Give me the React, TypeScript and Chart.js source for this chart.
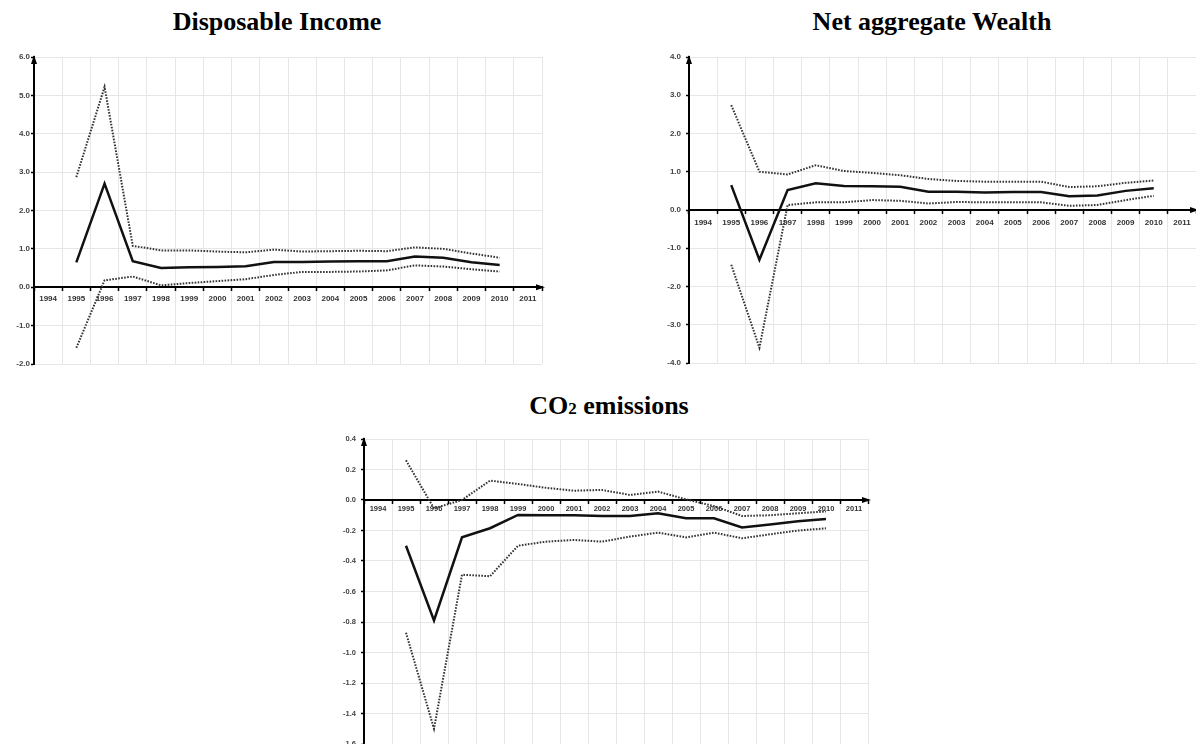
import React, { useEffect, useRef } from "react";
import { Chart, registerables } from "chart.js";

Chart.register(...registerables);

const years = ["1994", "1995", "1996", "1997", "1998", "1999", "2000", "2001", "2002", "2003", "2004", "2005", "2006", "2007", "2008", "2009", "2010", "2011"];

const incomeMid = [null, 0.65, 2.70, 0.68, 0.50, 0.52, 0.53, 0.55, 0.66, 0.66, 0.67, 0.68, 0.68, 0.80, 0.77, 0.65, 0.58, null];
const incomeUpper = [null, 2.87, 5.22, 1.08, 0.96, 0.96, 0.93, 0.91, 0.98, 0.93, 0.94, 0.95, 0.94, 1.04, 1.00, 0.88, 0.77, null];
const incomeLower = [null, -1.58, 0.18, 0.28, 0.05, 0.11, 0.16, 0.21, 0.32, 0.40, 0.40, 0.41, 0.44, 0.57, 0.54, 0.47, 0.41, null];

const wealthMid = [null, 0.65, -1.30, 0.52, 0.70, 0.63, 0.62, 0.61, 0.48, 0.48, 0.46, 0.47, 0.47, 0.36, 0.38, 0.50, 0.57, null];
const wealthUpper = [null, 2.74, 1.00, 0.93, 1.17, 1.02, 0.97, 0.91, 0.81, 0.76, 0.74, 0.74, 0.74, 0.60, 0.62, 0.71, 0.77, null];
const wealthLower = [null, -1.43, -3.60, 0.13, 0.20, 0.20, 0.26, 0.24, 0.17, 0.21, 0.20, 0.20, 0.20, 0.11, 0.13, 0.26, 0.37, null];

const co2Mid = [null, -0.30, -0.79, -0.245, -0.185, -0.098, -0.10, -0.10, -0.105, -0.105, -0.087, -0.12, -0.12, -0.18, -0.16, -0.14, -0.125, null];
const co2Upper = [null, 0.26, -0.055, 0.0, 0.127, 0.105, 0.08, 0.061, 0.066, 0.033, 0.055, 0.004, -0.04, -0.105, -0.10, -0.087, -0.075, null];
const co2Lower = [null, -0.87, -1.50, -0.49, -0.50, -0.30, -0.273, -0.262, -0.273, -0.24, -0.214, -0.245, -0.214, -0.251, -0.225, -0.20, -0.186, null];

const arrowPlugin = {
  id: "axisArrows",
  afterDraw(chart: any) {
    const { ctx, chartArea, scales } = chart;
    const y0 = scales.y.getPixelForValue(0);
    ctx.save();
    ctx.fillStyle = "#000";
    const x = chartArea.left;
    ctx.beginPath();
    ctx.moveTo(x, chartArea.top - 2);
    ctx.lineTo(x - 3, chartArea.top + 7);
    ctx.lineTo(x + 3, chartArea.top + 7);
    ctx.closePath();
    ctx.fill();
    const r = chartArea.right + 3;
    ctx.strokeStyle = "#000";
    ctx.lineWidth = 2;
    ctx.beginPath();
    ctx.moveTo(chartArea.right - 2, y0);
    ctx.lineTo(r - 4, y0);
    ctx.stroke();
    ctx.beginPath();
    ctx.moveTo(r, y0);
    ctx.lineTo(r - 9, y0 - 3);
    ctx.lineTo(r - 9, y0 + 3);
    ctx.closePath();
    ctx.fill();
    ctx.restore();
  },
};

type PanelProps = {
  mid: (number | null)[];
  upper: (number | null)[];
  lower: (number | null)[];
  min: number;
  max: number;
  step: number;
  left: number;
  top: number;
  width: number;
  height: number;
  yWidth: number;
  pad: { top: number; right: number; bottom: number; left: number };
  yPad: number;
  xPad: number;
  fontSize: number;
};

function fmt(v: number) {
  if (Math.abs(v) < 1e-9) return "0.0";
  return v.toFixed(1);
}

function Panel(p: PanelProps) {
  const ref = useRef<HTMLCanvasElement | null>(null);
  useEffect(() => {
    if (!ref.current) return;
    const dotted = {
      borderColor: "#333",
      borderWidth: 2,
      borderDash: [1.6, 1.4],
      pointRadius: 0,
      tension: 0,
      fill: false,
    };
    const font = { family: "'Liberation Sans', Arial, sans-serif", size: p.fontSize, weight: "bold" as const };
    const chart = new Chart(ref.current, {
      type: "line",
      data: {
        labels: years,
        datasets: [
          { data: p.upper, ...dotted },
          { data: p.lower, ...dotted },
          { data: p.mid, borderColor: "#111", borderWidth: 2.5, pointRadius: 0, tension: 0, fill: false },
        ],
      },
      options: {
        animation: false,
        responsive: false,
        devicePixelRatio: 1,
        layout: { padding: p.pad },
        plugins: { legend: { display: false }, tooltip: { enabled: false }, title: { display: false } },
        scales: {
          x: {
            type: "category",
            offset: true,
            position: { y: 0 } as any,
            grid: { offset: true, color: "#e6e6e6", lineWidth: 1, tickLength: 3, tickColor: "#000", tickWidth: 1.5 },
            border: { color: "#000", width: 2 },
            ticks: { autoSkip: false, maxRotation: 0, minRotation: 0, padding: p.xPad, color: "#333", font },
          },
          y: {
            position: "left",
            min: p.min,
            max: p.max,
            afterFit: (s: any) => {
              s.width = p.yWidth;
            },
            grid: { color: "#e6e6e6", lineWidth: 1, tickLength: 3, tickColor: "#000", tickWidth: 1.5 },
            border: { color: "#000", width: 2 },
            ticks: { stepSize: p.step, padding: p.yPad, color: "#444", font, callback: (v: any) => fmt(Number(v)) },
          },
        },
      },
      plugins: [arrowPlugin],
    });
    return () => chart.destroy();
  }, []);
  return (
    <canvas
      ref={ref}
      width={p.width}
      height={p.height}
      style={{ position: "absolute", left: p.left, top: p.top, width: p.width, height: p.height }}
    />
  );
}

const titleStyle: React.CSSProperties = {
  position: "absolute",
  width: 400,
  textAlign: "center",
  fontFamily: "'Liberation Serif', 'Times New Roman', serif",
  fontWeight: "bold",
  fontSize: 26,
  lineHeight: "30px",
  color: "#000",
  whiteSpace: "nowrap",
};

export default function App() {
  return (
    <div style={{ position: "fixed", left: 0, top: 0, width: 1196, height: 744, overflow: "hidden", background: "#fff" }}>
      <div style={{ ...titleStyle, left: 277 - 200, top: 7 }}>Disposable Income</div>
      <div style={{ ...titleStyle, left: 932 - 200, top: 7 }}>Net aggregate Wealth</div>
      <div style={{ ...titleStyle, left: 609 - 200, top: 391 }}>
        CO<span style={{ fontSize: 17 }}>2</span> emissions
      </div>
      <Panel
        mid={incomeMid}
        upper={incomeUpper}
        lower={incomeLower}
        min={-2}
        max={6}
        step={1}
        left={0}
        top={47}
        width={552}
        height={327}
        yWidth={34}
        pad={{ top: 10, right: 10, bottom: 10, left: 0 }}
        yPad={1}
        xPad={4}
        fontSize={8}
      />
      <Panel
        mid={wealthMid}
        upper={wealthUpper}
        lower={wealthLower}
        min={-4}
        max={4}
        step={1}
        left={640}
        top={47}
        width={556}
        height={326}
        yWidth={49}
        pad={{ top: 10, right: 0, bottom: 10, left: 0 }}
        yPad={5}
        xPad={5}
        fontSize={8}
      />
      <Panel
        mid={co2Mid}
        upper={co2Upper}
        lower={co2Lower}
        min={-1.6}
        max={0.4}
        step={0.2}
        left={320}
        top={425}
        width={560}
        height={330}
        yWidth={44}
        pad={{ top: 14, right: 12, bottom: 11, left: 0 }}
        yPad={5}
        xPad={1}
        fontSize={7.5}
      />
    </div>
  );
}
